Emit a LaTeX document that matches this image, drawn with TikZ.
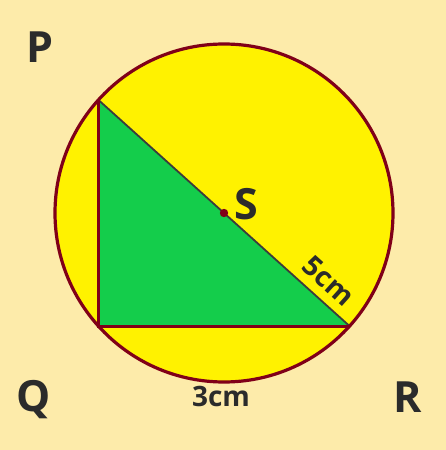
\documentclass[tikz,border=0pt]{standalone}
\usepackage{fontspec}
\setmainfont{Open Sans}
\usetikzlibrary{positioning}
\definecolor{bgcream}{RGB}{253,235,170}
\definecolor{sunyellow}{RGB}{255,242,0}
\definecolor{leafgreen}{RGB}{20,205,75}
\definecolor{rimred}{RGB}{128,0,24}
\definecolor{hypgray}{RGB}{60,60,60}
\definecolor{inkgray}{RGB}{43,43,43}
\tikzset{
      rim/.style      = {draw=rimred, line width=3.2pt, fill=sunyellow},
      legline/.style  = {draw=rimred, line width=3pt, line cap=round},
      hypline/.style  = {draw=hypgray, line width=1.8pt},
      vertlabel/.style = {anchor=base, text=inkgray, font=\bfseries\fontsize{43}{43}\selectfont},
      lenlabel/.style = {text=inkgray, font=\bfseries\fontsize{28}{28}\selectfont},
    }

\begin{document}
\begin{tikzpicture}[x=1pt,y=1pt]
        \useasboundingbox[fill=bgcream] (0,0) rectangle (446,450);
        \coordinate (S) at (224,237);
        \draw[rim] (S) circle (169);
        \path (S) ++(138:169) coordinate (P);
        \path (S) ++(222:169) coordinate (Q);
        \path (S) ++(318:169) coordinate (R);
        
        \fill[leafgreen] (P) -- (Q) -- (R) -- cycle;
        \draw[hypline] (P) -- (R);
        \draw[legline] (P) -- (Q) -- (R);
        \fill[rimred] (S) circle (4.2);
        
        \node[vertlabel] (lp) at (40,387) {P};
        \node[vertlabel] (lq) at (34,38) {Q};
        \node[vertlabel] (lr) at (408,37) {R};
        \node[vertlabel] (ls) at (246,230) {S};
        \node[lenlabel, rotate=-42] (lhyp) at (329,169) {5cm};
        \node[lenlabel, anchor=base] (lbase) at (221,43) {3cm};
        
\end{tikzpicture}
\end{document}
